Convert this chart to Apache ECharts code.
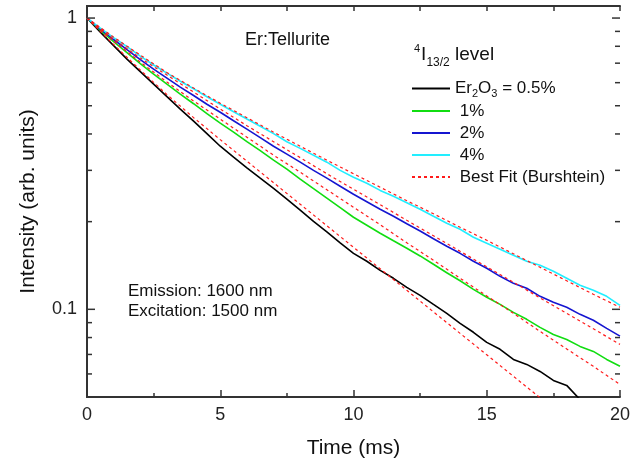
<!DOCTYPE html>
<html>
<head>
<meta charset="utf-8">
<script src="https://cdn.jsdelivr.net/npm/echarts@6.0.0/dist/echarts.min.js"></script>
<style>
  html, body { margin: 0; padding: 0; background: #fff; }
  #chart { width: 630px; height: 464px; }
</style>
</head>
<body>
<div id="chart"></div>
<script>
// measured decay curves, sampled every 0.5 ms
const time = [0, 0.5, 1, 1.5, 2, 2.5, 3, 3.5, 4, 4.5, 5, 5.5, 6, 6.5, 7, 7.5, 8, 8.5, 9, 9.5,
  10, 10.5, 11, 11.5, 12, 12.5, 13, 13.5, 14, 14.5, 15, 15.5, 16, 16.5, 17, 17.5, 18, 18.5, 19, 19.5, 20];
const er05 = [1, 0.895, 0.804, 0.723, 0.655, 0.593, 0.537, 0.487, 0.443, 0.401, 0.363, 0.333, 0.306, 0.282,
  0.260, 0.239, 0.219, 0.2006, 0.1846, 0.1692, 0.1557, 0.1462, 0.1361, 0.1278, 0.1190, 0.1117, 0.1040,
  0.0969, 0.0895, 0.0834, 0.0770, 0.0729, 0.0673, 0.0647, 0.0612, 0.0570, 0.0548, 0.049];
const er1 = [1, 0.909, 0.830, 0.761, 0.698, 0.642, 0.593, 0.548, 0.508, 0.4696, 0.4356, 0.4057, 0.3763,
  0.3505, 0.3251, 0.3029, 0.2797, 0.2595, 0.2407, 0.2233, 0.2071, 0.1944, 0.1825, 0.1719, 0.1621, 0.1525,
  0.1428, 0.1335, 0.1253, 0.1171, 0.1100, 0.1040, 0.0976, 0.0924, 0.0867, 0.0820, 0.0788, 0.0746, 0.0717,
  0.0673, 0.0638];
const er2 = [1, 0.917, 0.844, 0.779, 0.720, 0.668, 0.622, 0.579, 0.542, 0.506, 0.475, 0.444, 0.4155,
  0.3885, 0.363, 0.341, 0.320, 0.300, 0.282, 0.2646, 0.2484, 0.2341, 0.2207, 0.2088, 0.1967, 0.1858,
  0.1747, 0.1646, 0.1557, 0.1462, 0.1383, 0.1298, 0.1228, 0.1181, 0.1108, 0.1057, 0.1016, 0.0961, 0.0917,
  0.0860, 0.0809];
const er4 = [1, 0.924, 0.857, 0.798, 0.740, 0.690, 0.647, 0.607, 0.572, 0.537, 0.506, 0.477, 0.450,
  0.425, 0.401, 0.376, 0.357, 0.338, 0.320, 0.300, 0.284, 0.271, 0.256, 0.2445, 0.2323, 0.2207, 0.2088,
  0.1975, 0.1883, 0.1768, 0.1685, 0.1608, 0.1533, 0.1462, 0.1416, 0.1351, 0.1278, 0.1209, 0.1162,
  0.1108, 0.1032];

// Burshtein fits, every 1 ms
const fitTime = [0, 1, 2, 3, 4, 5, 6, 7, 8, 9, 10, 11, 12, 13, 14, 15, 16, 17, 18, 19, 20];
const fit05 = [1, 0.811, 0.663, 0.546, 0.455, 0.3824, 0.3226, 0.2721, 0.2295, 0.1936, 0.1633, 0.1378,
  0.1162, 0.0980, 0.0827, 0.0698, 0.0589, 0.0497];
const fit1 = [1, 0.834, 0.706, 0.603, 0.519, 0.4497, 0.3901, 0.3382, 0.2956, 0.2574, 0.2241, 0.1952,
  0.1692, 0.1474, 0.1278, 0.1112, 0.0969, 0.0840, 0.0731, 0.0637, 0.0552];
const fit2 = [1, 0.847, 0.729, 0.637, 0.557, 0.487, 0.427, 0.3763, 0.3317, 0.2921, 0.2585, 0.2286,
  0.2022, 0.1789, 0.1582, 0.1400, 0.1238, 0.1095, 0.0969, 0.0857, 0.0758];
const fit4 = [1, 0.860, 0.746, 0.650, 0.575, 0.510, 0.455, 0.4057, 0.363, 0.3251, 0.2921, 0.2626,
  0.2360, 0.2129, 0.1913, 0.1726, 0.1551, 0.1394, 0.1253, 0.1126, 0.1016];

// log axis: labelled decades and the small ticks between them
const yLabels = [1, 0.1];
const yMinorTicks = [0.06, 0.07, 0.08, 0.09, 0.2, 0.3, 0.4, 0.5, 0.6, 0.7, 0.8, 0.9];

const FONT = "'Liberation Sans', Arial, sans-serif";
const AXIS = '#333';

function pairs(xs, ys) {
  return ys.map(function (v, i) { return [xs[i], v]; });
}

function dataLine(name, ys, color) {
  return {
    name: name, type: 'line', data: pairs(time, ys),
    symbol: 'none', showSymbol: false,
    lineStyle: { color: color, width: 1.6 }, itemStyle: { color: color, opacity: 0 },
    z: 3
  };
}

function fitLine(ys) {
  return {
    name: 'Best Fit (Burshtein)', type: 'line', data: pairs(fitTime, ys),
    symbol: 'none', showSymbol: false,
    lineStyle: { color: '#ff1a1a', width: 1.2, type: [3, 3] }, itemStyle: { color: '#ff1a1a', opacity: 0 },
    z: 4
  };
}

const legendText = {
  'Er2O3 = 0.5%': 'Er{s|2}O{s|3} = 0.5%',
  '1%': ' 1%', '2%': ' 2%', '4%': ' 4%',
  'Best Fit (Burshtein)': ' Best Fit (Burshtein)'
};

const myChart = echarts.init(document.getElementById('chart'));

const option = {
  animation: false,
  backgroundColor: '#fff',
  grid: { left: 87, right: 10, top: 6, bottom: 67, outerBoundsMode: 'none' },
  legend: {
    orient: 'vertical', left: 411, top: 78, padding: 0, itemGap: 2,
    itemWidth: 38, itemHeight: 14, selectedMode: false,
    itemStyle: { opacity: 0 },
    data: ['Er2O3 = 0.5%', '1%', '2%', '4%', 'Best Fit (Burshtein)'],
    formatter: function (name) { return legendText[name]; },
    textStyle: {
      fontFamily: FONT, fontSize: 17, color: '#111', lineHeight: 20,
      rich: { s: { fontFamily: FONT, fontSize: 11, color: '#111', lineHeight: 20, padding: [10, 0, 0, 0] } }
    }
  },
  xAxis: [{
    type: 'value', min: 0, max: 20, interval: 5,
    name: 'Time (ms)', nameLocation: 'middle', nameGap: 41,
    nameTextStyle: { fontFamily: FONT, fontSize: 21, color: '#111' },
    axisLine: { lineStyle: { color: AXIS, width: 2 } },
    axisTick: { inside: true, length: 7, lineStyle: { color: AXIS, width: 1.5 } },
    minorTick: { show: true, splitNumber: 2, length: 4, lineStyle: { color: AXIS, width: 1.5 } },
    axisLabel: { fontFamily: FONT, fontSize: 18, color: '#222', margin: 9 },
    splitLine: { show: false }
  }, {
    type: 'value', min: 0, max: 20, interval: 5, position: 'top',
    axisLine: { lineStyle: { color: AXIS, width: 2 } },
    axisTick: { inside: true, length: 5, lineStyle: { color: AXIS, width: 1.5 } },
    minorTick: { show: true, splitNumber: 2, length: 5, lineStyle: { color: AXIS, width: 1.5 } },
    axisLabel: { show: false },
    splitLine: { show: false }
  }],
  yAxis: [{
    type: 'log', logBase: 10, min: 0.05, max: 1.1,
    name: 'Intensity (arb. units)', nameLocation: 'middle', nameGap: 48,
    nameTextStyle: { fontFamily: FONT, fontSize: 21, color: '#111' },
    axisLine: { lineStyle: { color: AXIS, width: 2 } },
    axisTick: { show: false },
    axisLabel: {
      fontFamily: FONT, fontSize: 18, color: '#222', margin: 10,
      formatter: function (v) {
        for (let i = 0; i < yLabels.length; i++) {
          if (Math.abs(v - yLabels[i]) < 1e-6) return String(yLabels[i]);
        }
        return '';
      }
    },
    splitLine: { show: false }
  }, {
    type: 'log', logBase: 10, min: 0.05, max: 1.1, position: 'right',
    axisLine: { lineStyle: { color: AXIS, width: 2 } },
    axisTick: { show: false },
    axisLabel: { show: false },
    splitLine: { show: false }
  }],
  graphic: [
    { type: 'text', left: 245, top: 31, style: { text: 'Er:Tellurite', font: '18px ' + FONT, fill: '#111' } },
    {
      type: 'text', left: 414, top: 41,
      style: {
        text: '{sup|4}{b|I}{sub|13/2}{b| level}', fill: '#111',
        rich: {
          sup: { fontFamily: FONT, fontSize: 11, lineHeight: 26, padding: [0, 1, 12, 0] },
          b: { fontFamily: FONT, fontSize: 19, lineHeight: 26 },
          sub: { fontFamily: FONT, fontSize: 12, lineHeight: 26, padding: [16, 0, 0, 0] }
        }
      }
    },
    {
      type: 'text', left: 128, top: 281,
      style: { text: 'Emission: 1600 nm\nExcitation: 1500 nm', font: '17px ' + FONT, lineHeight: 20, fill: '#111' }
    }
  ],
  series: [
    dataLine('Er2O3 = 0.5%', er05, '#000000'),
    dataLine('1%', er1, '#11dd11'),
    dataLine('2%', er2, '#1515d0'),
    dataLine('4%', er4, '#22eeff'),
    fitLine(fit05),
    fitLine(fit1),
    fitLine(fit2),
    fitLine(fit4),
    {
      // ticks of the log axis, on the left and right frame (decades longer)
      type: 'custom', coordinateSystem: 'cartesian2d', silent: true, z: 5,
      data: yLabels.concat(yMinorTicks).map(function (v) { return [0, v]; }),
      encode: { x: 0, y: 1 },
      renderItem: function (params, api) {
        const v = api.value(1);
        const y = api.coord([0, v])[1];
        const cs = params.coordSys;
        const len = yLabels.indexOf(v) >= 0 ? 8 : 5;
        const st = { stroke: AXIS, lineWidth: 1.5 };
        return {
          type: 'group',
          children: [
            { type: 'line', shape: { x1: cs.x, y1: y, x2: cs.x + len, y2: y }, style: st },
            { type: 'line', shape: { x1: cs.x + cs.width, y1: y, x2: cs.x + cs.width - len, y2: y }, style: st }
          ]
        };
      }
    }
  ]
};

myChart.setOption(option);
window.addEventListener('resize', function () {
  myChart.resize();
});
</script>
</body>
</html>
